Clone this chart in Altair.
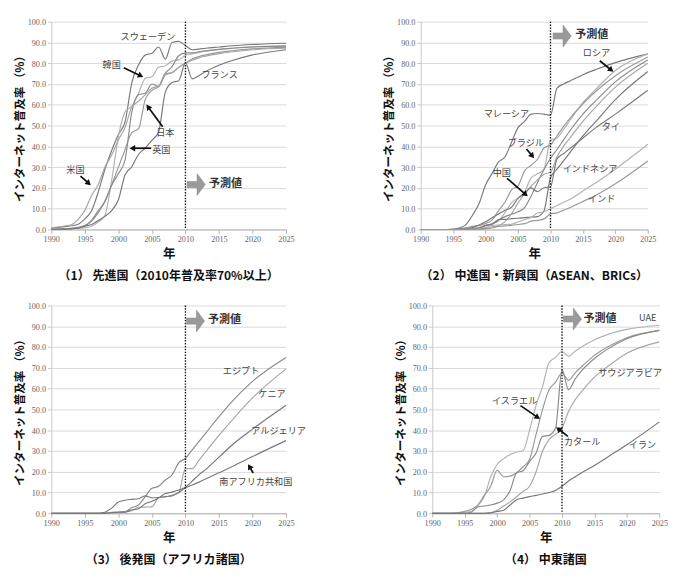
import math
import altair as alt
import pandas as pd

# ---------------- data ----------------
YEARS = list(range(1990, 2011)) + [2011, 2012, 2013, 2015, 2017, 2020, 2025]

# (1) developed countries
SWEDEN = [0.6, 1.0, 1.4, 1.8, 2.5, 5.1, 9.0, 18.0, 29.0, 38.0, 45.7, 51.8, 70.6, 79.1, 83.9, 84.8, 87.8, 82.0, 90.0, 90.5, 88.5,
          86.5, 86.8, 87.2, 87.8, 88.4, 89.0, 89.6]
KOREA = [0.1, 0.2, 0.3, 0.5, 0.6, 0.8, 1.6, 3.6, 6.8, 23.6, 44.7, 56.6, 59.4, 65.5, 72.7, 73.5, 78.1, 78.8, 81.0, 81.6, 83.7,
         84.5, 85.2, 85.8, 86.6, 87.2, 87.9, 88.4]
JAPAN = [0.0, 0.1, 0.2, 0.4, 0.8, 1.6, 4.4, 9.2, 13.4, 21.4, 30.0, 38.5, 46.6, 48.4, 62.4, 66.9, 68.7, 74.3, 75.4, 78.0, 80.0,
         82.0, 83.2, 84.0, 85.2, 86.0, 86.9, 87.6]
UK = [0.1, 0.2, 0.3, 0.5, 1.0, 1.9, 4.1, 8.1, 13.7, 21.3, 26.8, 33.5, 56.5, 64.8, 65.6, 70.0, 68.8, 75.1, 78.4, 83.6, 85.0,
      85.0, 85.5, 86.0, 86.7, 87.2, 87.8, 88.2]
USA = [0.8, 1.2, 1.7, 2.3, 4.9, 9.2, 16.4, 21.6, 30.1, 35.8, 43.1, 49.1, 58.8, 61.7, 64.8, 68.0, 69.0, 75.0, 75.5, 78.0, 80.0,
       81.5, 82.6, 83.4, 84.6, 85.5, 86.5, 87.2]
FRANCE = [0.1, 0.1, 0.2, 0.3, 0.6, 1.6, 2.4, 4.3, 6.3, 9.1, 14.3, 26.3, 30.2, 36.1, 39.2, 42.9, 46.9, 66.1, 70.7, 71.6, 80.1,
          72.5, 74.0, 76.0, 79.0, 81.3, 84.0, 86.5]

# (2) emerging countries
MALAYSIA = [0, 0, 0, 0, 0, 0.1, 0.8, 2.5, 7.0, 12.5, 21.5, 27.0, 32.5, 35.0, 42.0, 49.0, 52.0, 55.5, 55.8, 55.5, 55.0,
            68.0, 70.0, 71.5, 74.5, 77.0, 80.3, 84.5]
RUSSIA = [0, 0, 0, 0, 0, 0.1, 0.2, 0.5, 0.8, 1.0, 2.0, 2.9, 4.1, 8.3, 12.9, 15.2, 18.0, 24.7, 26.8, 29.0, 43.0,
          44.0, 48.0, 52.5, 61.0, 67.5, 76.5, 84.5]
BRAZIL = [0, 0, 0, 0, 0, 0.1, 0.4, 0.8, 1.5, 2.0, 2.9, 4.5, 9.1, 13.2, 19.1, 21.0, 28.2, 30.9, 33.8, 39.2, 40.7,
          45.0, 49.5, 53.5, 60.5, 66.5, 74.0, 83.0]
CHINA = [0, 0, 0, 0, 0, 0, 0.1, 0.2, 0.2, 0.7, 1.8, 2.6, 4.6, 6.2, 7.3, 8.5, 10.5, 16.0, 22.6, 28.9, 34.3,
         38.5, 43.0, 47.5, 55.5, 62.0, 71.0, 81.5]
VIETNAM = [0, 0, 0, 0, 0, 0, 0, 0, 0, 0, 0.3, 1.3, 1.9, 3.8, 7.6, 12.7, 17.3, 20.8, 23.9, 26.6, 27.5,
           35.0, 40.0, 44.0, 52.0, 59.0, 68.5, 80.0]
PHILIPPINES = [0, 0, 0, 0, 0, 0, 0.1, 0.2, 0.3, 0.5, 2.0, 2.5, 4.8, 4.9, 5.2, 5.4, 5.7, 6.0, 6.2, 9.0, 25.0,
               29.0, 33.0, 37.0, 45.0, 52.0, 62.5, 76.0]
THAILAND = [0, 0, 0, 0, 0, 0.1, 0.2, 0.4, 0.9, 2.2, 3.7, 5.6, 7.5, 9.3, 10.7, 15.0, 17.2, 20.0, 18.2, 20.1, 20.5,
            34.0, 36.5, 39.0, 44.0, 49.0, 55.5, 67.0]
INDONESIA = [0, 0, 0, 0, 0, 0, 0, 0.1, 0.2, 0.4, 0.9, 2.0, 2.1, 2.4, 2.6, 3.6, 4.8, 5.8, 7.9, 8.5, 10.0,
             11.5, 13.0, 14.5, 18.5, 22.5, 29.0, 41.0]
INDIA = [0, 0, 0, 0, 0, 0, 0, 0, 0.1, 0.3, 0.5, 0.7, 1.5, 1.7, 2.0, 2.4, 2.8, 4.0, 4.4, 5.1, 7.5,
         8.0, 9.3, 10.5, 13.5, 16.5, 22.0, 33.0]

# (3) Africa
EGYPT = [0, 0, 0, 0, 0, 0, 0, 0, 0.1, 0.5, 0.6, 0.8, 2.7, 4.0, 8.0, 12.0, 13.0, 16.0, 18.5, 24.3, 26.5,
         30.5, 34.5, 38.5, 46.5, 54.0, 63.5, 75.0]
KENYA = [0, 0, 0, 0, 0, 0, 0, 0, 0, 0.2, 0.3, 0.6, 1.2, 2.9, 3.0, 3.1, 7.5, 8.0, 8.7, 10.0, 21.5,
         21.5, 25.5, 29.5, 37.5, 45.0, 55.5, 69.5]
ALGERIA = [0, 0, 0, 0, 0, 0, 0, 0, 0, 0.3, 0.5, 0.6, 1.6, 2.2, 4.6, 5.8, 7.4, 9.5, 10.2, 11.2, 12.5,
           15.5, 18.5, 21.0, 27.0, 33.0, 40.5, 52.0]
SOUTH_AFRICA = [0, 0, 0, 0, 0, 0, 0, 0, 0.5, 2.5, 5.4, 6.3, 6.7, 7.0, 8.4, 7.5, 7.6, 8.0, 8.4, 10.0, 12.3,
                13.6, 15.0, 16.5, 19.5, 22.5, 27.3, 35.0]

# (4) Middle East
UAE = [0, 0, 0, 0, 0, 0.5, 1.0, 3.5, 8.0, 17.5, 23.6, 26.3, 28.3, 29.5, 30.1, 40.0, 52.0, 61.0, 72.5, 75.0, 78.0,
       75.5, 78.0, 80.0, 83.5, 86.0, 88.5, 90.5]
ISRAEL = [0, 0, 0, 0, 0.3, 0.9, 1.9, 3.9, 8.6, 13.0, 20.7, 17.6, 17.9, 19.5, 22.4, 26.0, 38.0, 50.0, 59.4, 63.1, 67.5,
          64.0, 67.5, 70.5, 76.0, 80.0, 84.5, 88.0]
QATAR = [0, 0, 0, 0, 0, 0, 0.5, 3.0, 3.5, 4.0, 4.9, 6.5, 11.0, 19.5, 20.5, 25.0, 29.0, 37.0, 37.5, 41.0, 69.0,
         59.5, 64.5, 68.5, 74.5, 79.0, 84.0, 88.0]
SAUDI = [0, 0, 0, 0, 0, 0, 0, 0, 0, 0.3, 1.5, 3.5, 5.5, 8.0, 10.5, 13.0, 20.0, 30.0, 35.5, 38.0, 41.0,
         49.0, 54.5, 58.5, 65.5, 70.5, 77.0, 82.5]
IRAN = [0, 0, 0, 0, 0, 0, 0, 0, 0, 0.2, 0.9, 1.5, 4.0, 6.5, 7.3, 8.0, 8.6, 9.3, 10.0, 11.0, 13.0,
        15.5, 17.5, 19.5, 23.0, 27.0, 33.0, 44.0]

Y_TICKS = [0, 10, 20, 30, 40, 50, 60, 70, 80, 90, 100]
X_TICKS = [1990, 1995, 2000, 2005, 2010, 2015, 2020, 2025]
Y_TITLE = "インターネット普及率 （%）"
X_TITLE = "年"
FORECAST_TEXT = "予測値"

CAPTIONS = ["（1） 先進国（2010年普及率70%以上）",
            "（2） 中進国・新興国（ASEAN、BRICs）",
            "（3） 後発国（アフリカ諸国）",
            "（4） 中東諸国"]

# ---------------- styling ----------------
JP = "Noto Sans CJK JP"
SERIF = "Liberation Serif"
H = 216
W_L = 244
W_R = 236
ARROW_PATH = "M -0.83 -0.28 L 0.08 -0.28 L 0.08 -1 L 0.83 0 L 0.08 1 L 0.08 0.28 L -0.83 0.28 Z"

X_AXIS = alt.Axis(values=X_TICKS, tickCount=8, format="d", title=X_TITLE, grid=False, tickSize=4,
                  labelFont=SERIF, labelFontSize=8.5, labelColor="#666", labelPadding=2,
                  labelOverlap=False,
                  domainColor="#b0b0b0", tickColor="#b0b0b0",
                  titleFont=JP, titleFontSize=13, titleFontWeight="bold", titlePadding=5,
                  titleColor="#111", labelFlush=False)
Y_AXIS = alt.Axis(values=Y_TICKS, tickCount=11, format=".1f", title=Y_TITLE, grid=True, gridColor="#d8d8d8",
                  tickSize=4, tickColor="#c8c8c8", domainColor="#c8c8c8",
                  labelFont=SERIF, labelFontSize=8.5, labelColor="#666", labelPadding=2,
                  labelOverlap=False,
                  titleFont=JP, titleFontSize=12, titleFontWeight="bold", titlePadding=1,
                  titleColor="#111")
XS = alt.Scale(domain=[1990, 2025], nice=False, zero=False)
YS = alt.Scale(domain=[0, 100], nice=False)


def X(f):
    return alt.X(f, scale=XS, axis=X_AXIS)


def Y(f):
    return alt.Y(f, scale=YS, axis=Y_AXIS)


def build_lines(series):
    rows = []
    for name, vals, _ in series:
        for yr, v in zip(YEARS, vals):
            rows.append({"x": yr, "y": v, "country": name})
    return pd.DataFrame(rows)


def panel(series, width, labels, arrows, fc, caption):
    ppx = width / 35.0
    ppy = H / 100.0

    names = [s[0] for s in series]
    cols = [s[2] for s in series]
    lines = alt.Chart(build_lines(series)).mark_line(interpolate="monotone", strokeWidth=1.2).encode(
        x=X("x:Q"), y=Y("y:Q"),
        color=alt.Color("country:N", scale=alt.Scale(domain=names, range=cols), legend=None),
        detail="country:N",
    )

    vline = alt.Chart(pd.DataFrame({"x": [2010]})).mark_rule(
        color="#111", strokeWidth=1.4, strokeDash=[1.5, 1.5]).encode(
        x=X("x:Q"), y=alt.value(0), y2=alt.value(H))

    # annotation arrows (tail -> head)
    arows = []
    for x1, y1, x2, y2 in arrows:
        dxp = (x2 - x1) * ppx
        dyp = -(y2 - y1) * ppy
        L = math.hypot(dxp, dyp)
        ux, uy = dxp / L, dyp / L
        hx = x2 - 3.0 * ux / ppx
        hy = y2 + 3.0 * uy / ppy
        ang = (math.degrees(math.atan2(dxp, -dyp)) + 360) % 360
        arows.append({"x": x1, "y": y1, "x2": hx, "y2": hy, "ang": ang})
    adf = pd.DataFrame(arows)
    shafts = alt.Chart(adf).mark_rule(color="#111", strokeWidth=1.8).encode(
        x=X("x:Q"), y=Y("y:Q"), x2="x2:Q", y2="y2:Q")
    heads = alt.Chart(adf).mark_point(shape="triangle", filled=True, color="#111", size=45, opacity=1).encode(
        x=X("x2:Q"), y=Y("y2:Q"), angle=alt.Angle("ang:Q", scale=None))

    tdf = pd.DataFrame([{"x": a, "y": b, "t": t} for t, a, b in labels])
    texts = alt.Chart(tdf).mark_text(font=JP, fontSize=9.5, color="#444", align="center",
                                     baseline="middle").encode(x=X("x:Q"), y=Y("y:Q"), text="t:N")

    fx, fy, tx, ty = fc
    fcdf = pd.DataFrame([{"x": fx, "y": fy}])
    farrow = alt.Chart(fcdf).mark_point(shape=ARROW_PATH, filled=True, color="#9a9a9a", size=520,
                                        opacity=1, stroke="#888", strokeWidth=0.5).encode(x=X("x:Q"), y=Y("y:Q"))
    ftdf = pd.DataFrame([{"x": tx, "y": ty, "t": FORECAST_TEXT}])
    ftext = alt.Chart(ftdf).mark_text(font=JP, fontSize=11.5, fontWeight="bold", color="#333",
                                      align="left", baseline="middle").encode(x=X("x:Q"), y=Y("y:Q"), text="t:N")

    return alt.layer(lines, vline, shafts, heads, texts, farrow, ftext).properties(
        width=width, height=H,
        title=alt.TitleParams(caption, orient="bottom", anchor="middle", offset=10,
                              font=JP, fontSize=12.5, fontWeight="bold", color="#111"))


p1 = panel(
    [("スウェーデン", SWEDEN, "#7a7a7a"), ("韓国", KOREA, "#b2b2b2"), ("日本", JAPAN, "#999999"),
     ("英国", UK, "#8a8a8a"), ("米国", USA, "#a6a6a6"), ("フランス", FRANCE, "#777777")],
    W_L,
    [("スウェーデン", 2004.4, 92.7), ("韓国", 1999.0, 78.9), ("日本", 2007.0, 46.3),
     ("英国", 2006.4, 38.4), ("米国", 1993.6, 28.8), ("フランス", 2015.1, 74.3)],
    [(2000.8, 77.8, 2003.6, 73.5), (2006.6, 49.4, 2004.25, 59.8),
     (2004.9, 39.1, 2001.8, 39.1), (1994.35, 25.7, 1995.8, 21.6)],
    (2011.6, 21.6, 2013.5, 21.6), CAPTIONS[0])

p2 = panel(
    [("マレーシア", MALAYSIA, "#777777"), ("ロシア", RUSSIA, "#6a6a6a"), ("ブラジル", BRAZIL, "#adadad"),
     ("中国", CHINA, "#828282"), ("ベトナム", VIETNAM, "#969696"), ("フィリピン", PHILIPPINES, "#b8b8b8"),
     ("タイ", THAILAND, "#959595"), ("インドネシア", INDONESIA, "#bdbdbd"), ("インド", INDIA, "#aaaaaa")],
    W_R,
    [("マレーシア", 2003.2, 55.5), ("ブラジル", 2006.2, 41.4), ("中国", 2002.5, 26.9), ("ロシア", 2017.1, 85.0),
     ("タイ", 2019.3, 49.1), ("インドネシア", 2016.1, 28.9), ("インド", 2017.9, 14.7)],
    [(2017.6, 81.2, 2019.6, 76.1), (2006.3, 38.7, 2007.4, 34.6), (2003.3, 24.6, 2006.4, 16.2)],
    (2011.8, 93.1, 2013.8, 93.4), CAPTIONS[1])

p3 = panel(
    [("エジプト", EGYPT, "#a2a2a2"), ("ケニア", KENYA, "#777777"), ("アルジェリア", ALGERIA, "#c2c2c2"),
     ("南アフリカ共和国", SOUTH_AFRICA, "#7c7c7c")],
    W_L,
    [("エジプト", 2018.3, 68.4), ("ケニア", 2022.9, 57.5), ("アルジェリア", 2023.9, 39.7),
     ("南アフリカ共和国", 2020.5, 15.1)],
    [(2020.1, 19.4, 2019.4, 23.3)],
    (2011.5, 92.5, 2013.35, 92.8), CAPTIONS[2])

p4 = panel(
    [("UAE", UAE, "#828282"), ("イスラエル", ISRAEL, "#b8b8b8"), ("カタール", QATAR, "#747474"),
     ("サウジアラビア", SAUDI, "#7c7c7c"), ("イラン", IRAN, "#c0c0c0")],
    W_R,
    [("UAE", 2023.2, 93.8), ("サウジアラビア", 2020.5, 67.3), ("イスラエル", 2002.7, 54.1),
     ("カタール", 2013.1, 34.4), ("イラン", 2022.4, 32.8)],
    [(2003.6, 51.8, 2006.5, 45.6), (2010.9, 37.0, 2009.2, 41.2)],
    (2011.6, 93.5, 2013.3, 93.3), CAPTIONS[3])

row1 = alt.hconcat(p1, p2, spacing=91)
row2 = alt.hconcat(p3, p4, spacing=91)
chart = alt.vconcat(row1, row2, spacing=20).properties(
    padding={"left": 5, "top": -1, "right": 0, "bottom": 0}
).configure_view(stroke=None)

chart.save("out.html", embed_options={"renderer": "svg", "actions": False})
